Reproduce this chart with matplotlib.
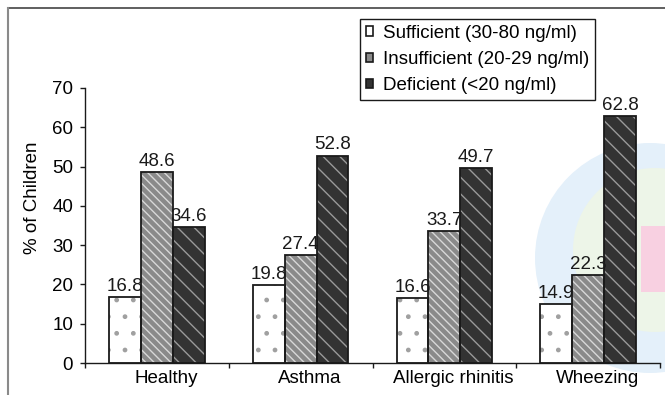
import matplotlib
matplotlib.use('Agg')
import numpy as np
import matplotlib.pyplot as plt
import matplotlib.patches as mpatches
from matplotlib.lines import Line2D
from matplotlib.transforms import ScaledTranslation, IdentityTransform

# data
categories = ['Healthy', 'Asthma', 'Allergic rhinitis', 'Wheezing']
sufficient = [16.8, 19.8, 16.6, 14.9]
insufficient = [48.6, 27.4, 33.7, 22.3]
deficient = [34.6, 52.8, 49.7, 62.8]
series_names = ['Sufficient (30-80 ng/ml)', 'Insufficient (20-29 ng/ml)', 'Deficient (<20 ng/ml)']

plt.rcParams['font.family'] = ['Liberation Sans', 'DejaVu Sans']
plt.rcParams['font.size'] = 13.5
plt.rcParams['hatch.linewidth'] = 1.0

W, H = 665, 395
fig = plt.figure(figsize=(W / 100, H / 100), dpi=100)
ax = fig.add_axes([85 / W, 1 - 363 / H, (660 - 85) / W, (363 - 88) / H])
ax.set_facecolor('none')

# faint watermark logo behind the right part of the plot (pixel coords)
px = IdentityTransform()
fig.patches.append(mpatches.Circle((650, H - 258), 115, transform=px,
                                   facecolor='#e4f0fa', edgecolor='none', zorder=-3))
fig.patches.append(mpatches.Circle((655, H - 250), 82, transform=px,
                                   facecolor='#edf5e8', edgecolor='none', zorder=-2))
fig.patches.append(mpatches.Rectangle((641, H - 292), 24, 66, transform=px,
                                      facecolor='#f8d0e1', edgecolor='none', zorder=-1))

# outer frame lines of the original figure
fig.add_artist(Line2D([8 / W, 1], [1 - 8 / H, 1 - 8 / H], transform=fig.transFigure, color='#444444', lw=1.2))
fig.add_artist(Line2D([8 / W, 8 / W], [0, 1 - 8 / H], transform=fig.transFigure, color='#8a8a8a', lw=1.5))

x = np.arange(len(categories))
w = 0.222
styles = [
    # face, hatch, hatch colour
    ('white', '.', '#a0a0a0'),
    ('#8a8a8a', '\\\\\\\\', '#d8d8d8'),
    ('#333333', '\\\\', '#9a9a9a'),
]
all_vals = [sufficient, insufficient, deficient]

for i, vals in enumerate(all_vals):
    face, hatch, hcol = styles[i]
    pos = x + (i - 1) * w
    ax.bar(pos, vals, w, color=face, edgecolor=hcol, hatch=hatch, linewidth=0, zorder=2)
    bars = ax.bar(pos, vals, w, fill=False, edgecolor='#1a1a1a', linewidth=1.3, zorder=3)
    ax.bar_label(bars, fmt='%.1f', padding=1.5, color='#1a1a1a', fontsize=13.5)

ax.set_ylim(0, 70)
ax.set_xlim(-0.5, 3.5)
ax.set_yticks(range(0, 71, 10))
ax.set_xticks(np.arange(-0.5, 4, 1))
ax.set_xticklabels([])
ax.set_xticks(x, minor=True)
ax.set_xticklabels(categories, minor=True)
ax.tick_params(axis='x', which='minor', length=0, pad=5)
ax.tick_params(axis='both', which='major', length=3.6, width=1, color='#1a1a1a', direction='out')
ax.tick_params(axis='y', pad=5)
offset = ScaledTranslation(9 / 100, 0, fig.dpi_scale_trans)
for lab in ax.get_xticklabels(minor=True):
    lab.set_transform(lab.get_transform() + offset)

for s in ['top', 'right']:
    ax.spines[s].set_visible(False)
for s in ['left', 'bottom']:
    ax.spines[s].set_color('#1a1a1a')
    ax.spines[s].set_linewidth(1)

ax.set_ylabel('% of Children', fontsize=13.5)
ax.yaxis.set_label_coords(-0.0765, 0.6)

handles = [mpatches.Patch(facecolor=st[0], edgecolor='#1a1a1a', linewidth=1.2) for st in styles]
leg = fig.legend(handles, series_names, loc='upper left', bbox_to_anchor=(360 / W, 1 - 19 / H),
                 fancybox=False, framealpha=1, edgecolor='#1a1a1a', handlelength=0.4,
                 handleheight=0.4, handletextpad=0.55, labelspacing=0.5, borderpad=0.3,
                 borderaxespad=0, fontsize=13.5)
leg.get_frame().set_linewidth(1)

fig.savefig('out.png', dpi=100)
